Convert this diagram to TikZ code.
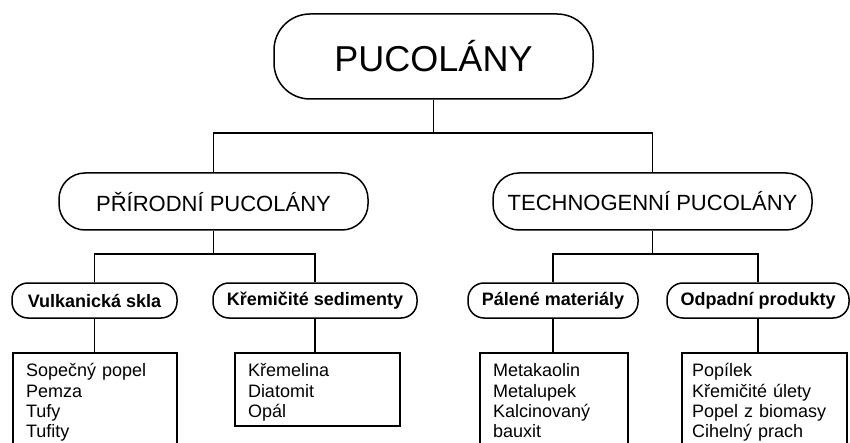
\documentclass[tikz,border=0pt]{standalone}
\usepackage{fontspec}
\setmainfont{Liberation Sans}
\tikzset{
    every node/.style={draw,line width=1.5pt},
    big/.style={rectangle, rounded corners=36pt, minimum width=319pt, minimum height=85pt, inner sep=0pt, font=\fontsize{36}{40}\selectfont},
    mid/.style={rectangle, rounded corners=26pt, minimum height=57pt, inner sep=0pt, font=\fontsize{22}{26}\selectfont},
    sub/.style={rectangle, rounded corners=16pt, minimum height=35pt, inner sep=0pt, font=\bfseries\fontsize{18}{20}\selectfont},
    list/.style={rectangle, anchor=north, inner xsep=13pt, inner ysep=10pt, text height=14pt, align=left, font=\fontsize{18}{20.3}\selectfont}
}
\begin{document}
\begin{tikzpicture}[x=1pt,y=-1pt,line width=1.5pt]
\useasboundingbox (0,0) rectangle (850,443);
\clip (0,0) rectangle (850,443);

\node[big] at (433.5,56.5) (n00) {PUCOLÁNY};

\node[mid, minimum width=309pt] at (213.5,201.5) (n10) {PŘÍRODNÍ PUCOLÁNY};
\node[mid, minimum width=319pt] at (652.5,201.5) (n11) {TECHNOGENNÍ PUCOLÁNY};

\node[sub, minimum width=165pt] at (94.5,300.5) (n20) {Vulkanická skla};
\node[sub, minimum width=204pt] at (315,300.5) (n21) {Křemičité sedimenty};
\node[sub, minimum width=170pt] at (553,300.5) (n22) {Pálené materiály};
\node[sub, minimum width=182pt] at (758,300.5) (n23) {Odpadní produkty};

\node[list, text width=138pt] at (95,352) (n30) {Sopečný popel\\Pemza\\Tufy\\Tufity};
\node[list, text width=139pt, text depth=39pt] at (317.5,352) (n31) {Křemelina\\Diatomit\\Opál};
\node[list, text width=122pt] at (554,352) (n32) {Metakaolin\\Metalupek\\Kalcinovaný\\bauxit};
\node[list, text width=145pt, inner xsep=10pt] at (764.5,352) (n33) {Popílek\\Křemičité úlety\\Popel z biomasy\\Cihelný prach};

\draw (n10.north) -- ++(0,-39) coordinate (j00) -| (n11.north);
\draw (n00.south) -- (n00.south |- j00);

\draw (n20.north) -- ++(0,-28) coordinate (j10) -| (n21.north);
\draw (n10.south) -- (n10.south |- j10);
\draw (n22.north) -- ++(0,-28) coordinate (j11) -| (n23.north);
\draw (n11.south) -- (n11.south |- j11);

\draw (n20.south) -- (n20.south |- n30.north);
\draw (n21.south) -- (n21.south |- n31.north);
\draw (n22.south) -- (n22.south |- n32.north);
\draw (n23.south) -- (n23.south |- n33.north);
\end{tikzpicture}
\end{document}
